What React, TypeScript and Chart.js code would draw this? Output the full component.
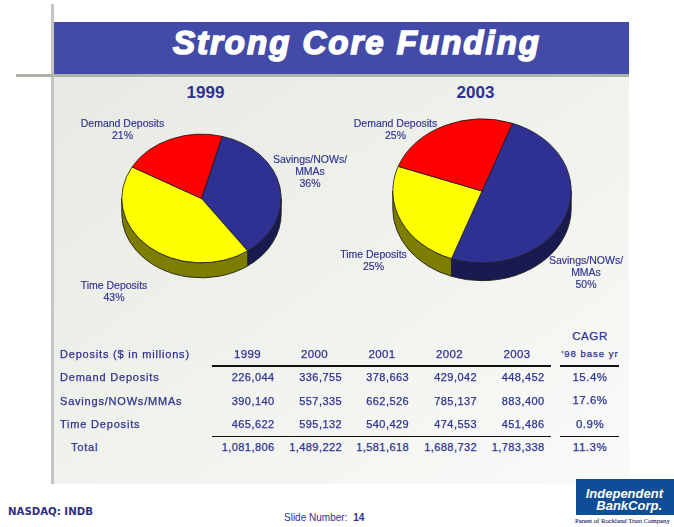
import React, { useEffect, useRef } from "react";
import { Chart, registerables } from "chart.js";

Chart.register(...registerables);

const sliceNames = ["Savings/NOWs/MMAs", "Time Deposits", "Demand Deposits"];
const shares1999 = [36, 43, 21];
const shares2003 = [50, 25, 25];
const sliceColors = ["#2e3192", "#ffff00", "#ff0000"];
const wallColors = ["#191a50", "#7d7d00", "#8a0000"];

const tableYears = ["1999", "2000", "2001", "2002", "2003"];
const rowNames = ["Demand Deposits", "Savings/NOWs/MMAs", "Time Deposits", "Total"];
const demandRow = ["226,044", "336,755", "378,663", "429,042", "448,452"];
const savingsRow = ["390,140", "557,335", "662,526", "785,137", "883,400"];
const timeRow = ["465,622", "595,132", "540,429", "474,553", "451,486"];
const totalRow = ["1,081,806", "1,489,222", "1,581,618", "1,688,732", "1,783,338"];
const cagrRow = ["15.4%", "17.6%", "0.9%", "11.3%"];

const INK = "#2e3192";
const SANS = '"Liberation Sans", Arial, sans-serif';

const squash3d = {
  id: "squash3d",
  beforeDatasetsDraw(chart: any, _a: any, opts: any) {
    const { ctx } = chart;
    const arcs = chart.getDatasetMeta(0).data;
    const cx = arcs[0].x;
    const cy = arcs[0].y;
    const k = opts.squash;
    ctx.save();
    ctx.translate(cx, cy);
    ctx.scale(1, k);
    ctx.translate(-cx, -cy);
    const r = arcs[0].outerRadius;
    const d = opts.depth / k;
    arcs.forEach((arc: any, i: number) => {
      for (let w = -1; w <= 2; w++) {
        const lo = Math.max(arc.startAngle, 2 * Math.PI * w);
        const hi = Math.min(arc.endAngle, 2 * Math.PI * w + Math.PI);
        if (hi <= lo) continue;
        ctx.beginPath();
        ctx.arc(cx, cy + d, r, lo, hi);
        ctx.arc(cx, cy, r, hi, lo, true);
        ctx.closePath();
        ctx.fillStyle = wallColors[i];
        ctx.fill();
        ctx.lineWidth = 1;
        ctx.strokeStyle = "#20201c";
        ctx.stroke();
      }
    });
  },
  afterDatasetsDraw(chart: any) {
    chart.ctx.restore();
  },
};

function Pie({ values, cx, cy, rx, squash, depth, rotation }: any) {
  const ref = useRef<HTMLCanvasElement>(null);
  const size = Math.round(rx * 2 + 50);
  useEffect(() => {
    const chart = new Chart(ref.current!, {
      type: "pie",
      data: {
        labels: sliceNames,
        datasets: [{ data: values, backgroundColor: sliceColors, borderColor: "#1a1a1a", borderWidth: 0.9 }],
      },
      options: {
        responsive: false,
        animation: false,
        events: [],
        radius: rx,
        rotation,
        layout: { padding: 0 },
        plugins: { legend: { display: false }, tooltip: { enabled: false }, squash3d: { squash, depth } },
      } as any,
      plugins: [squash3d],
    });
    return () => chart.destroy();
  }, []);
  return (
    <canvas
      ref={ref}
      width={size}
      height={size}
      style={{ position: "absolute", left: cx - size / 2, top: cy - size / 2, width: size, height: size }}
    />
  );
}

function T({ x, y, a = "c", size = 10.5, bold, ls = 0, color = INK, font = SANS, italic, stroke = 0, children }: any) {
  const tx = a === "c" ? "-50%" : a === "r" ? "-100%" : "0";
  return (
    <div
      style={{
        position: "absolute",
        left: x,
        top: y,
        transform: `translate(${tx},-50%)`,
        whiteSpace: "nowrap",
        fontFamily: font,
        fontSize: size,
        fontWeight: bold ? 700 : 400,
        fontStyle: italic ? "italic" : "normal",
        letterSpacing: ls,
        color,
        lineHeight: 1,
        WebkitTextStroke: stroke ? `${stroke}px ${color}` : undefined,
      }}
    >
      {children}
    </div>
  );
}

function Box({ l, t, w, h, bg }: any) {
  return <div style={{ position: "absolute", left: l, top: t, width: w, height: h, background: bg }} />;
}

const valueRight = [274.5, 342, 409, 477, 544.5];
const yearCentre = [247.5, 314.5, 382, 449.5, 517];
const rowY = [377, 400.5, 424, 447];

export default function App() {
  const rows = [demandRow, savingsRow, timeRow, totalRow];
  const tw = 0.25;
  return (
    <div style={{ position: "absolute", left: 0, top: 0, width: 674, height: 527, background: "#fff", overflow: "hidden" }}>
      <Box l={54} t={76} w={575} h={408} bg="linear-gradient(145deg,#e7eae2 0%,#eef0ea 40%,#fafbf9 100%)" />
      <Box l={54} t={22} w={575} h={52} bg="#434ba9" />
      <Box l={51} t={4} w={2.5} h={480} bg="#c3c6c2" />
      <Box l={16} t={74} w={613} h={3} bg="#aeb3a8" />
      <div
        style={{
          position: "absolute", left: 173, top: 41.5, transform: "translateY(-50%)", fontFamily: SANS,
          fontWeight: 700, fontStyle: "italic", fontSize: 33, letterSpacing: 2, color: "#fff",
          WebkitTextStroke: "1.6px #fff", whiteSpace: "nowrap", lineHeight: 1,
        }}
      >
        Strong Core Funding
      </div>

      <T x={205.5} y={92} size={17} bold>1999</T>
      <T x={475.5} y={92} size={17} bold>2003</T>

      <Pie values={shares1999} cx={201} cy={198} rx={79.7} squash={0.807} depth={15} rotation={15} />
      <Pie values={shares2003} cx={482} cy={190.5} rx={89.2} squash={0.807} depth={17.7} rotation={20} />

      <T x={122.5} y={123} stroke={0.15}>Demand Deposits</T>
      <T x={122.5} y={135} stroke={0.15}>21%</T>
      <T x={310} y={159} stroke={0.15}>Savings/NOWs/</T>
      <T x={310} y={171} stroke={0.15}>MMAs</T>
      <T x={310} y={183} stroke={0.15}>36%</T>
      <T x={114} y={285} stroke={0.15}>Time Deposits</T>
      <T x={114} y={297} stroke={0.15}>43%</T>

      <T x={395.5} y={123} stroke={0.15}>Demand Deposits</T>
      <T x={395.5} y={135} stroke={0.15}>25%</T>
      <T x={373.5} y={254} stroke={0.15}>Time Deposits</T>
      <T x={373.5} y={266} stroke={0.15}>25%</T>
      <T x={586} y={260} stroke={0.15}>Savings/NOWs/</T>
      <T x={586} y={272} stroke={0.15}>MMAs</T>
      <T x={586} y={284} stroke={0.15}>50%</T>

      <T x={590} y={336.5} size={11.5} ls={0.6} stroke={tw}>CAGR</T>
      <T x={590} y={354} size={9.5} ls={1} stroke={tw}>'98 base yr</T>
      <T x={60} y={354} a="l" size={11} ls={0.8} stroke={tw}>Deposits ($ in millions)</T>
      {tableYears.map((v, i) => (
        <T key={v} x={yearCentre[i]} y={354.5} size={11.5} ls={0.4} stroke={tw}>{v}</T>
      ))}
      {rowNames.map((n, r) => (
        <T key={n} x={r === 3 ? 71 : 60} y={rowY[r]} a="l" size={11} ls={0.8} stroke={tw}>{n}</T>
      ))}
      {rows.map((row, r) =>
        row.map((v, c) => (
          <T key={r + "-" + c} x={valueRight[c]} y={rowY[r]} a="r" size={11} ls={0.42} stroke={tw}>{v}</T>
        ))
      )}
      {cagrRow.map((v, r) => (
        <T key={v} x={590} y={rowY[r] + 0.5} size={11.5} ls={0.5} stroke={tw}>{v}</T>
      ))}

      <Box l={212} t={365} w={339} h={1.5} bg="#111" />
      <Box l={560} t={365} w={59} h={1.5} bg="#111" />
      <Box l={212} t={436} w={339} h={1} bg="#111" />
      <Box l={560} t={436} w={59} h={1} bg="#111" />

      <T x={8} y={512} a="l" size={10.2} bold font='"DejaVu Sans", sans-serif' color="#2a2f88">NASDAQ: INDB</T>
      <T x={284} y={518} a="l" size={10} color={INK}>
        Slide Number: <b style={{ marginLeft: 3 }}>14</b>
      </T>

      <Box l={576} t={479} w={98} h={36} bg="#0f4d96" />
      <T x={663} y={492.5} a="r" size={13} bold italic color="#fff">Independent</T>
      <T x={662} y={504.5} a="r" size={13} bold italic color="#fff">BankCorp.</T>
      <T x={575} y={521} a="l" size={6.7} font='"Liberation Serif", serif' color="#1e2a6a" stroke={0.1}>Parent of Rockland Trust Company</T>
    </div>
  );
}
